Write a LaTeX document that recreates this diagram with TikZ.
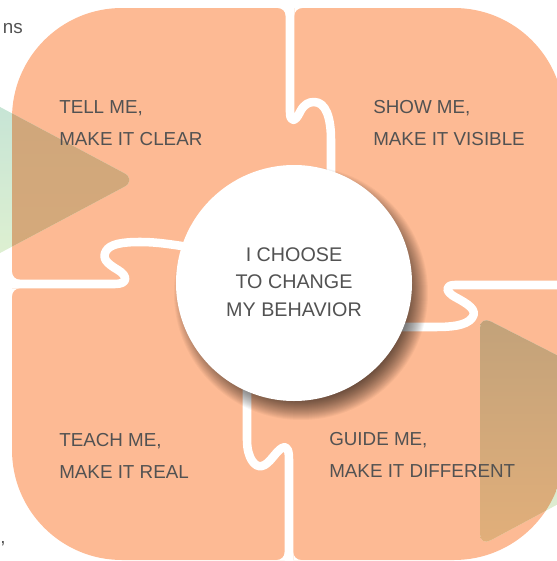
\documentclass[tikz,border=0pt]{standalone}
\usepackage{fontspec}
\setmainfont{Liberation Sans}
\definecolor{peach}{RGB}{253,186,148}
\definecolor{txt}{RGB}{82,82,82}
\definecolor{tlt}{RGB}{194,226,214}
\definecolor{tlb}{RGB}{226,242,208}
\definecolor{tant}{RGB}{206,166,124}
\definecolor{tanb}{RGB}{214,170,122}
\definecolor{trt}{RGB}{198,224,210}
\definecolor{trb}{RGB}{227,238,207}
\definecolor{trtt}{RGB}{194,162,122}
\definecolor{trtb}{RGB}{226,175,122}
\begin{document}
\begin{tikzpicture}[x=0.75pt,y=-0.75pt,
  gap/.style={draw=white,line width=6.4pt,line cap=round,line join=round},
  lbl/.style={font=\fontsize{14.1}{16}\selectfont,text=txt,inner sep=0pt,anchor=base west},
  ctr/.style={font=\fontsize{14.8}{17}\selectfont,text=txt,inner sep=0pt,anchor=base},
  flare/.style={fill=white},
  body/.style={rounded corners=82.5pt}]
\useasboundingbox (0,0) rectangle (557,561);
\clip (0,0) rectangle (557,561);
% puzzle body
\fill[peach,body] (12,8) rectangle (564,560);
% gaps
\draw[gap] (290,-5) -- (290,112) .. controls (290,124) and (296,121) .. (300,112)
  .. controls (304,104) and (309,102) .. (314,102)
  .. controls (326,102) and (331,118) .. (331,140) -- (331,220);
\draw[gap] (-5,284) -- (115,284) .. controls (128,284) and (128,276) .. (118,270)
  .. controls (106,263) and (102,258) .. (106,251)
  .. controls (110,244) and (122,242) .. (140,242)
  .. controls (160,242) and (175,245) .. (220,252);
\draw[gap] (575,285) -- (455,285) .. controls (444,285) and (446,292) .. (455,297)
  .. controls (468,304) and (478,310) .. (472,318)
  .. controls (466,326) and (450,327) .. (435,327) -- (370,327);
\draw[gap] (247,360) -- (247,440) .. controls (247,458) and (255,468) .. (262,466)
  .. controls (270,464) and (275,452) .. (282,448)
  .. controls (288,445) and (289,452) .. (289,460) -- (289,575);
% rounded inner corners at gap ends
\fill[flare] (277.75,8) -- (285.75,8) -- (285.75,16) arc[start angle=0,end angle=-90,radius=8] -- cycle;
\fill[flare] (294.25,8) -- (302.25,8) arc[start angle=-90,end angle=-180,radius=8] -- cycle;
\fill[flare] (12,279.75) -- (12,271.75) arc[start angle=180,end angle=90,radius=8] -- cycle;
\fill[flare] (12,288.25) -- (20,288.25) arc[start angle=-90,end angle=-180,radius=8] -- cycle;
\fill[flare] (284.75,560) -- (284.75,552) arc[start angle=0,end angle=90,radius=8] -- cycle;
\fill[flare] (293.25,560) -- (301.25,560) arc[start angle=90,end angle=180,radius=8] -- cycle;
% circle shadow
\foreach \i in {0,...,23}
  \fill[black,opacity=0.036] (301,293) circle[radius=127-\i];
% circle
\fill[white] (294,283) circle[radius=118];
% triangles: green where on white, tan where on the puzzle body
\shade[top color=tlt,bottom color=tlb,rounded corners=11pt] (-60,75) -- (137,180) -- (-60,285) -- cycle;
\shade[top color=trt,bottom color=trb,rounded corners=9pt] (480,316) -- (700,428) -- (480,546) -- cycle;
\begin{scope}
\clip[body] (12,8) rectangle (564,560);
\shade[top color=tant,bottom color=tanb,rounded corners=11pt] (-60,75) -- (137,180) -- (-60,285) -- cycle;
\shade[top color=trtt,bottom color=trtb,rounded corners=9pt] (480,316) -- (700,428) -- (480,546) -- cycle;
\end{scope}
% texts
\node[ctr] (c1) at (294,261) {I CHOOSE};
\node[ctr] (c2) at (294,288) {TO CHANGE};
\node[ctr] (c3) at (294,316) {MY BEHAVIOR};
\node[lbl] (a1) at (59,113) {TELL ME,};
\node[lbl] (a2) at (59,145) {MAKE IT CLEAR};
\node[lbl] (b1) at (373,113) {SHOW ME,};
\node[lbl] (b2) at (373,145) {MAKE IT VISIBLE};
\node[lbl] (d1) at (59,446) {TEACH ME,};
\node[lbl] (d2) at (59,478) {MAKE IT REAL};
\node[lbl] (e1) at (329,445) {GUIDE ME,};
\node[lbl] (e2) at (329,477) {MAKE IT DIFFERENT};
\node[lbl,anchor=base east] (f1) at (23,33) {ns};
\node[lbl] (f2) at (0,543) {,};
\end{tikzpicture}
\end{document}
